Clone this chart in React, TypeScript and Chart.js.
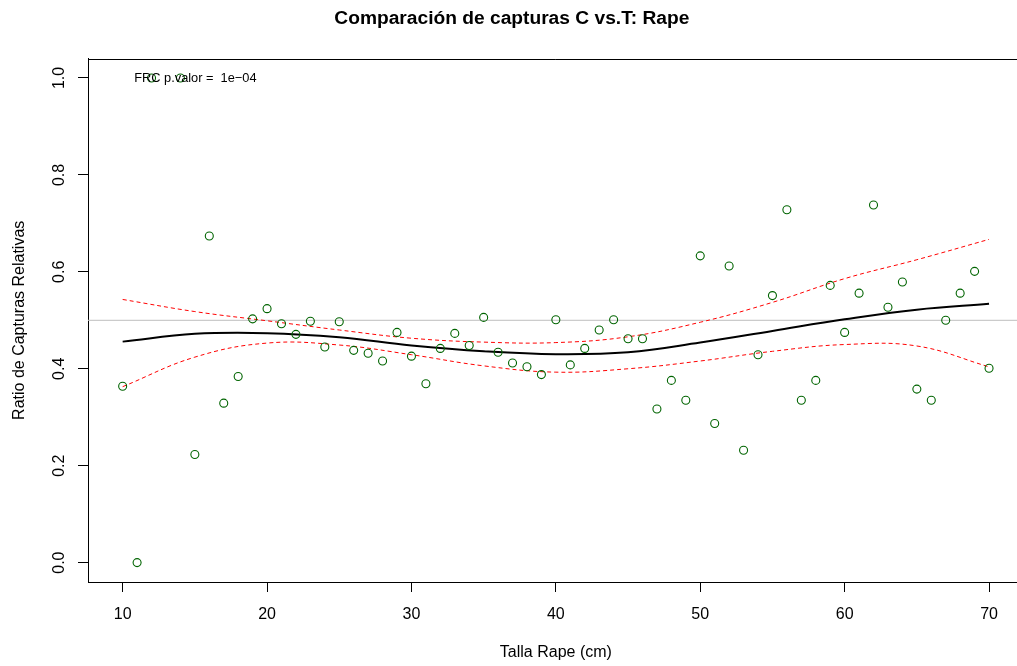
import React, { useEffect, useRef } from "react";
import { Chart, registerables } from "chart.js";

Chart.register(...registerables);

// ---- data ----
const tallas = [10, 11, 12, 14, 15, 16, 17, 18, 19, 20, 21, 22, 23, 24, 25, 26, 27, 28, 29, 30,
  31, 32, 33, 34, 35, 36, 37, 38, 39, 40, 41, 42, 43, 44, 45, 46, 47, 48, 49, 50,
  51, 52, 53, 54, 55, 56, 57, 58, 59, 60, 61, 62, 63, 64, 65, 66, 67, 68, 69, 70];
const ratios = [0.364, 0.0, 1.0, 1.0, 0.223, 0.674, 0.329, 0.384, 0.503, 0.524, 0.493, 0.471, 0.498, 0.445, 0.497, 0.438, 0.432, 0.416, 0.475, 0.426,
  0.369, 0.442, 0.473, 0.448, 0.506, 0.434, 0.412, 0.404, 0.388, 0.501, 0.408, 0.442, 0.480, 0.501, 0.462, 0.462, 0.317, 0.376, 0.335, 0.633,
  0.287, 0.612, 0.232, 0.429, 0.551, 0.728, 0.335, 0.376, 0.572, 0.475, 0.556, 0.738, 0.527, 0.579, 0.358, 0.335, 0.500, 0.556, 0.601, 0.401];

const curveX = [10, 15, 20, 25, 30, 35, 40, 45, 50, 55, 60, 65, 70];
const fitY = [0.456, 0.472, 0.4735, 0.465, 0.448, 0.436, 0.430, 0.434, 0.454, 0.478, 0.502, 0.522, 0.534];
const upperY = [0.543, 0.518, 0.499, 0.480, 0.463, 0.455, 0.454, 0.466, 0.496, 0.537, 0.586, 0.625, 0.667];
const lowerY = [0.363, 0.424, 0.453, 0.449, 0.429, 0.406, 0.393, 0.400, 0.416, 0.436, 0.450, 0.447, 0.404];

const xTicks = [10, 20, 30, 40, 50, 60, 70];
const yTicks = [0.0, 0.2, 0.4, 0.6, 0.8, 1.0];
const refLine = 0.5;
const xRange = [7.6, 72.4];
const yRange = [-0.04, 1.04];

const titleText = "Comparación de capturas C vs.T: Rape";
const xTitle = "Talla Rape (cm)";
const yTitle = "Ratio de Capturas Relativas";
const annotation = "FRC p.valor =  1e\u221204";
const annotX = 10.8;
const annotY = 1.0;

const FONT = "'Liberation Sans', Arial, Helvetica, sans-serif";
const CANVAS_W = 1040;
const CANVAS_H = 666;

const rPlot = {
  id: "rPlot",
  afterDatasetsDraw(chart: any) {
    const { ctx, chartArea: a, scales } = chart;
    ctx.save();
    ctx.strokeStyle = "#000";
    ctx.lineWidth = 1;
    ctx.beginPath();
    const t = Math.round(a.top) + 0.5;
    ctx.moveTo(a.left, t);
    ctx.lineTo(a.right, t);
    ctx.moveTo(Math.round(a.right) - 0.5, a.top);
    ctx.lineTo(Math.round(a.right) - 0.5, a.bottom);
    ctx.stroke();
    ctx.fillStyle = "#000";
    ctx.font = `12.8px ${FONT}`;
    ctx.textAlign = "left";
    ctx.textBaseline = "middle";
    ctx.fillText(annotation, scales.x.getPixelForValue(annotX), scales.y.getPixelForValue(annotY));
    ctx.restore();
  },
  afterDraw(chart: any) {
    const { ctx, scales } = chart;
    const y = scales.y;
    ctx.save();
    ctx.fillStyle = "#000";
    ctx.font = `16px ${FONT}`;
    ctx.textAlign = "center";
    ctx.textBaseline = "middle";
    for (const v of yTicks) {
      const py = y.getPixelForValue(v);
      ctx.save();
      ctx.translate(y.right - 28.5, py);
      ctx.rotate(-Math.PI / 2);
      ctx.fillText(v.toFixed(1), 0, 0);
      ctx.restore();
    }
    ctx.restore();
  },
};

export default function App() {
  const ref = useRef<HTMLCanvasElement>(null);
  useEffect(() => {
    if (!ref.current) return;
    const pts = tallas.map((t, i) => ({ x: t, y: ratios[i] }));
    const mk = (ys: number[]) => curveX.map((x, i) => ({ x, y: ys[i] }));
    const chart = new Chart(ref.current, {
      type: "scatter",
      data: {
        datasets: [
          {
            label: "Ratio",
            data: pts,
            showLine: false,
            pointStyle: "circle",
            pointRadius: 4,
            pointBorderWidth: 1.1,
            borderColor: "#006400",
            pointBorderColor: "#006400",
            backgroundColor: "rgba(0,0,0,0)",
            pointBackgroundColor: "rgba(0,0,0,0)",
          },
          {
            label: "Ajuste",
            data: mk(fitY),
            showLine: true,
            borderColor: "#000",
            borderWidth: 2,
            pointRadius: 0,
            tension: 0.4,
          },
          {
            label: "IC sup",
            data: mk(upperY),
            showLine: true,
            borderColor: "#ff0000",
            borderWidth: 1,
            borderDash: [4, 3],
            pointRadius: 0,
            tension: 0.4,
          },
          {
            label: "IC inf",
            data: mk(lowerY),
            showLine: true,
            borderColor: "#ff0000",
            borderWidth: 1,
            borderDash: [4, 3],
            pointRadius: 0,
            tension: 0.4,
          },
          {
            label: "ref",
            data: [
              { x: xRange[0], y: refLine },
              { x: xRange[1], y: refLine },
            ],
            showLine: true,
            borderColor: "#bebebe",
            borderWidth: 1,
            pointRadius: 0,
          },
        ],
      },
      options: {
        responsive: false,
        animation: false,
        events: [],
        layout: { padding: { left: 0, right: CANVAS_W - 1023.7, top: 0, bottom: 0 } },
        plugins: {
          legend: { display: false },
          tooltip: { enabled: false },
          title: {
            display: true,
            text: titleText,
            color: "#000",
            font: { family: FONT, size: 19.2, weight: "bold", lineHeight: 1.2 },
            padding: { top: 7.5, bottom: 28.06 },
          },
        },
        scales: {
          x: {
            type: "linear",
            min: xRange[0],
            max: xRange[1],
            afterBuildTicks: (s: any) => {
              s.ticks = xTicks.map((v) => ({ value: v }));
            },
            afterFit: (s: any) => {
              s.height = 84;
            },
            grid: { drawOnChartArea: false, drawTicks: true, tickLength: 10, color: "#000", lineWidth: 1 },
            border: { display: true, color: "#000", width: 1 },
            ticks: {
              color: "#000",
              font: { family: FONT, size: 16, lineHeight: 1.2 },
              padding: 13,
              maxRotation: 0,
              autoSkip: false,
              callback: (v: any) => String(v),
            },
            title: {
              display: true,
              text: xTitle,
              color: "#000",
              font: { family: FONT, size: 16, lineHeight: 1.2 },
              padding: { top: 0, bottom: 3.5 },
            },
          },
          y: {
            type: "linear",
            min: yRange[0],
            max: yRange[1],
            afterBuildTicks: (s: any) => {
              s.ticks = yTicks.map((v) => ({ value: v }));
            },
            afterFit: (s: any) => {
              s.width = 88;
            },
            grid: { drawOnChartArea: false, drawTicks: true, tickLength: 10, color: "#000", lineWidth: 1 },
            border: { display: true, color: "#000", width: 1 },
            ticks: {
              color: "rgba(0,0,0,0)",
              font: { family: FONT, size: 16 },
              callback: (v: any) => Number(v).toFixed(1),
            },
            title: {
              display: true,
              text: yTitle,
              color: "#000",
              font: { family: FONT, size: 16, lineHeight: 1.2 },
              padding: { top: 9.5, bottom: 0 },
            },
          },
        },
      },
      plugins: [rPlot],
    } as any);
    return () => chart.destroy();
  }, []);

  return (
    <div
      style={{
        position: "fixed",
        left: 0,
        top: 0,
        width: 1017,
        height: 666,
        overflow: "hidden",
        background: "#fff",
      }}
    >
      <canvas ref={ref} width={CANVAS_W} height={CANVAS_H} style={{ width: CANVAS_W, height: CANVAS_H, display: "block" }} />
    </div>
  );
}
